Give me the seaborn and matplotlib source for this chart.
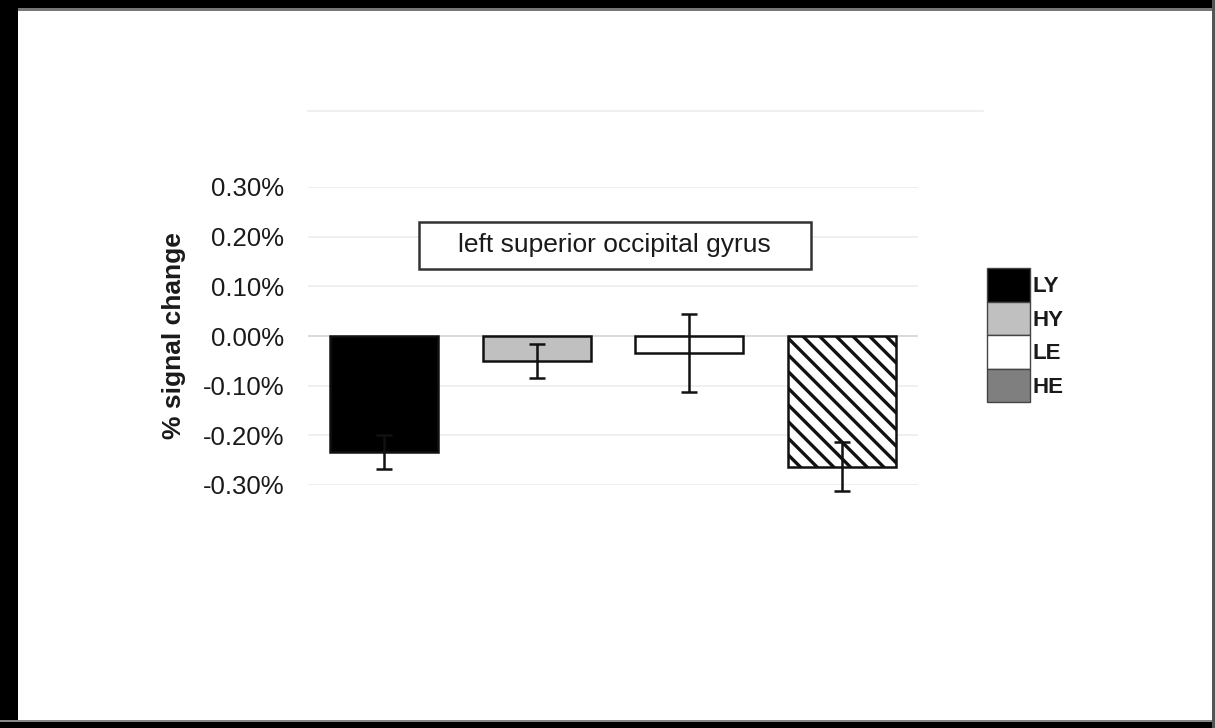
import matplotlib
matplotlib.use("Agg")
import matplotlib.pyplot as plt
from matplotlib.patches import Patch, Rectangle
from matplotlib.lines import Line2D
import numpy as np
import pandas as pd
import seaborn as sns

# Conditions and mean % signal change (left superior occipital gyrus)
conditions = ["LY", "HY", "LE", "HE"]
signal_change = [-0.234, -0.050, -0.034, -0.263]
sem = [0.034, 0.034, 0.078, 0.050]
y_ticks = [-0.30, -0.20, -0.10, 0.00, 0.10, 0.20, 0.30]
region_label = "left superior occipital gyrus"

bar_colors = {"LY": "#000000", "HY": "#c0c0c0", "LE": "#ffffff", "HE": "#ffffff"}
legend_colors = {"LY": "#000000", "HY": "#c0c0c0", "LE": "#ffffff", "HE": "#7f7f7f"}

sns.set_theme(style="white")
plt.rcParams["font.family"] = ["Liberation Sans", "DejaVu Sans"]
plt.rcParams["hatch.linewidth"] = 2.4
plt.rcParams["hatch.color"] = "#000000"

fig = plt.figure(figsize=(12.15, 7.28), dpi=100)
fig.patch.set_facecolor("white")
ax = fig.add_axes([308 / 1215, 1 - 485 / 728, 610 / 1215, 298 / 728])

df = pd.DataFrame({"condition": conditions, "change": signal_change})
sns.barplot(data=df, x="condition", y="change", hue="condition",
            palette=bar_colors, order=conditions, hue_order=conditions,
            width=0.71, edgecolor="#111111", linewidth=1.8,
            legend=False, ax=ax, zorder=3)

# hatch the HE bar
bars = list(ax.patches)
bars[3].set_hatch("\\\\")

# error bars on top of the bars
centers = [b.get_x() + b.get_width() / 2 for b in bars]
ax.errorbar(centers, signal_change, yerr=sem, fmt="none", ecolor="#111111",
            elinewidth=1.8, capsize=5.5, capthick=1.8, zorder=5, clip_on=False)

ax.set_xlim(-0.5, 3.5)
ax.set_ylim(-0.30, 0.30)
ax.set_yticks(y_ticks)
ax.set_yticklabels([f"{v:.2f}%" for v in y_ticks], fontsize=18.5, color="#1a1a1a")
ax.set_xticks([])
ax.set_xlabel("")
ax.set_ylabel("% signal change", fontsize=19, fontweight="bold", color="#1a1a1a",
              labelpad=12)
ax.tick_params(axis="y", length=0, pad=17)
for s in ax.spines.values():
    s.set_visible(False)
ax.grid(False)
for v in y_ticks:
    ax.axhline(v, color="#d4d4d4" if v == 0 else "#ececec", lw=1.2, zorder=1)

# region label box
ax.add_patch(Rectangle((0.182, 0.725), 0.6426, 0.1576, transform=ax.transAxes,
                       facecolor="white", edgecolor="#333333", lw=1.8,
                       zorder=6, clip_on=False))
ax.text(0.503, 0.805, region_label, transform=ax.transAxes, ha="center",
        va="center", fontsize=19, color="#1a1a1a", zorder=7)

# legend with stacked swatches
handles = [Patch(facecolor=legend_colors[c], edgecolor="#444444", lw=1.0)
           for c in conditions]
fig.legend(handles, conditions, loc="upper left",
           bbox_to_anchor=(987 / 1215, 1 - 268 / 728), frameon=False,
           prop={"size": 16, "weight": "bold"}, handlelength=1.94,
           handleheight=1.95, labelspacing=0.0, handletextpad=0.12,
           borderpad=0, borderaxespad=0, labelcolor="#1a1a1a")

# faint outer plot-area line
fig.add_artist(Line2D([308 / 1215, 983 / 1215], [1 - 111 / 728] * 2,
                      color="#efefef", lw=1.5))

# black frame around the figure
fig.add_artist(Rectangle((0, 1 - 8 / 728), 1, 8 / 728, transform=fig.transFigure,
                         facecolor="black", edgecolor="none"))
fig.add_artist(Rectangle((0, 1 - 11 / 728), 1, 3 / 728, transform=fig.transFigure,
                         facecolor="#777777", edgecolor="none"))
fig.add_artist(Rectangle((0, 0), 18 / 1215, 1, transform=fig.transFigure,
                         facecolor="black", edgecolor="none"))
fig.add_artist(Rectangle((0, 0), 1, 6 / 728, transform=fig.transFigure,
                         facecolor="black", edgecolor="none"))
fig.add_artist(Rectangle((0, 6 / 728), 1, 2 / 728, transform=fig.transFigure,
                         facecolor="#888888", edgecolor="none"))
fig.add_artist(Rectangle((1 - 3 / 1215, 0), 3 / 1215, 1, transform=fig.transFigure,
                         facecolor="#555555", edgecolor="none"))

fig.savefig("out.png", dpi=100, facecolor="white")
